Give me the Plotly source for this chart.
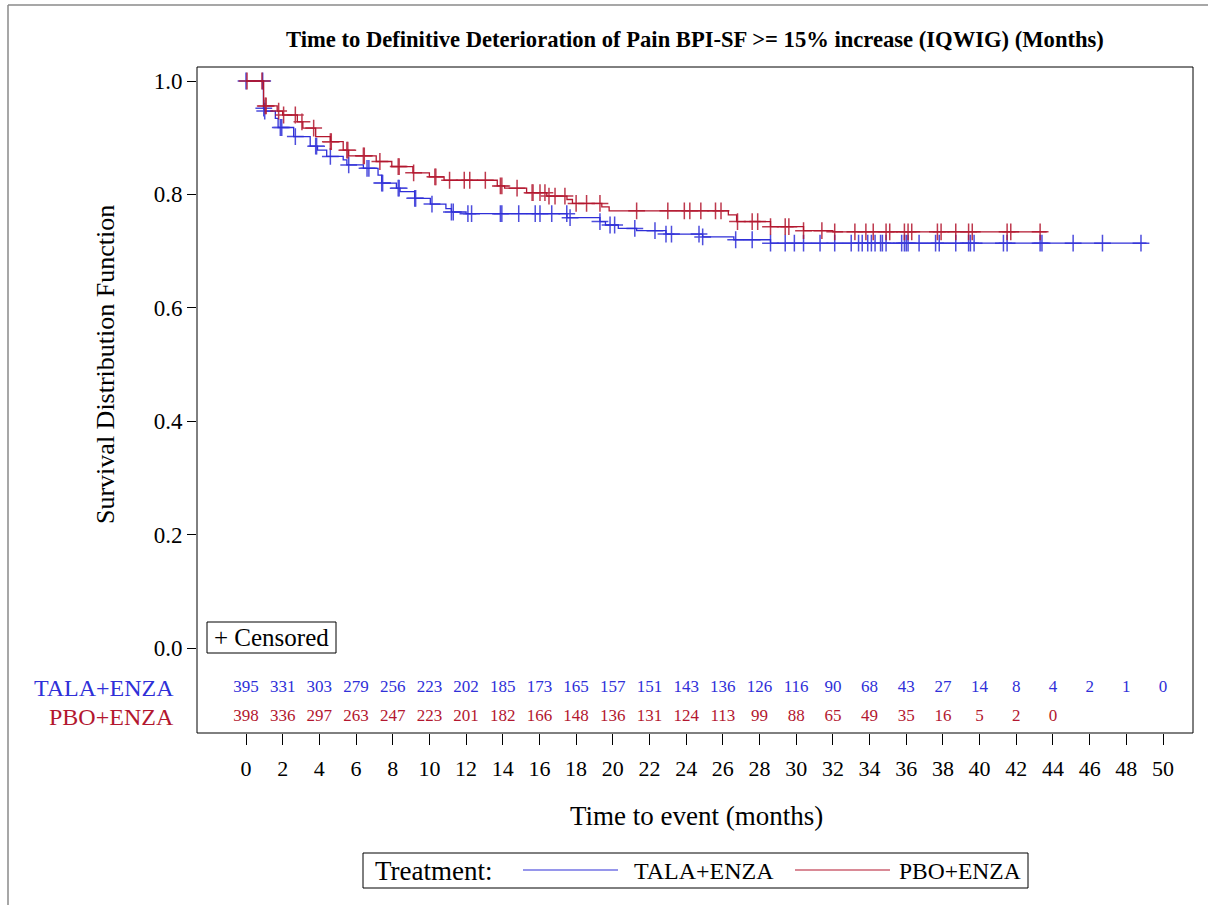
import plotly.graph_objects as go
import numpy as np

# ---------------- data ----------------
months_ticks = list(range(0, 51, 2))

tala_step_t = [0, 0.95, 1.0, 1.6, 1.75, 2.6, 3.5, 3.9, 4.4, 5.3, 5.5, 6.4, 7.2, 7.4, 8.2, 8.4,
               9.2, 10.05, 10.9, 11.2, 12.0, 17.5, 19.3, 19.6, 20.3, 21.3, 22.9, 24.9, 26.6, 28.6]
tala_step_s = [1.0, 0.952, 0.947, 0.934, 0.918, 0.902, 0.885, 0.878, 0.867, 0.861, 0.852, 0.846,
               0.834, 0.820, 0.811, 0.805, 0.793, 0.783, 0.775, 0.769, 0.766, 0.759, 0.752, 0.746,
               0.740, 0.736, 0.730, 0.725, 0.720, 0.714]
tala_end = 49.1
tala_cens = [0.0, 0.91, 0.97, 1.02, 1.87, 1.95, 2.69, 3.8, 3.85, 4.6, 5.6, 6.6, 6.7, 7.4, 7.45,
             8.3, 8.35, 9.2, 9.25, 10.14, 11.2, 11.3, 12.1, 12.3, 13.87, 13.95, 14.87, 15.77,
             16.03, 16.67, 17.49, 17.67, 19.3, 19.85, 20.1, 21.2, 22.3, 22.9, 23.2, 24.7, 24.9,
             26.7, 27.6, 28.6, 29.4, 29.9, 30.4, 31.3, 32.1, 33.0, 33.4, 33.6, 33.9, 34.1, 34.3,
             34.6, 34.7, 34.9, 35.75, 35.9, 36.0, 36.1, 36.7, 37.6, 37.8, 38.7, 39.4, 39.5, 39.7,
             41.3, 41.5, 43.3, 43.4, 45.1, 46.7, 48.8]

pbo_step_t = [0, 0.96, 1.7, 2.0, 2.8, 3.1, 3.8, 4.6, 5.3, 5.6, 7.1, 7.95, 9.1, 10.0, 10.8, 13.7,
              14.1, 15.3, 16.4, 17.5, 17.8, 19.4, 19.8, 26.3, 26.75, 28.6, 30.4, 32.0]
pbo_step_s = [1.0, 0.956, 0.947, 0.940, 0.928, 0.917, 0.902, 0.893, 0.878, 0.868, 0.858, 0.849,
              0.838, 0.831, 0.825, 0.815, 0.811, 0.803, 0.797, 0.791, 0.784, 0.778, 0.771, 0.764,
              0.752, 0.743, 0.736, 0.734]
pbo_end = 43.66
pbo_cens = [0.055, 0.87, 1.05, 1.1, 1.78, 2.05, 2.69, 3.05, 3.69, 4.6, 4.65, 5.5, 5.55, 6.4,
            6.45, 7.3, 8.3, 8.35, 9.14, 10.3, 10.35, 11.1, 11.9, 12.2, 13.05, 13.87, 13.95,
            14.78, 15.6, 15.65, 16.03, 16.3, 16.52, 16.85, 17.39, 18.0, 18.57, 19.3, 21.3, 23.0,
            23.9, 24.2, 24.8, 25.6, 25.9, 26.8, 27.6, 27.9, 28.6, 29.4, 29.6, 30.4, 31.4, 32.1,
            33.2, 33.8, 34.2, 34.9, 35.1, 35.9, 36.1, 36.3, 37.7, 37.9, 38.7, 39.4, 39.6, 41.5,
            41.7, 43.3]

tala_risk = [395, 331, 303, 279, 256, 223, 202, 185, 173, 165, 157, 151, 143, 136, 126, 116,
             90, 68, 43, 27, 14, 8, 4, 2, 1, 0]
pbo_risk = [398, 336, 297, 263, 247, 223, 201, 182, 166, 148, 136, 131, 124, 113, 99, 88, 65,
            49, 35, 16, 5, 2, 0]

arm_names = ["TALA+ENZA", "PBO+ENZA"]

# ---------------- style ----------------
BLUE = "#2f2fd8"
RED = "#b3172f"
FONT = "Liberation Serif"


def step_val(ts, ss, t):
    idx = np.searchsorted(np.array(ts), t, side="right") - 1
    return ss[max(idx, 0)]


fig = go.Figure()

for ts, ss, tend, cens, col, name in [
    (tala_step_t, tala_step_s, tala_end, tala_cens, BLUE, arm_names[0]),
    (pbo_step_t, pbo_step_s, pbo_end, pbo_cens, RED, arm_names[1]),
]:
    fig.add_trace(go.Scatter(x=list(ts) + [tend], y=list(ss) + [ss[-1]], mode="lines",
                             line=dict(color=col, width=1.3, shape="hv"), name=name,
                             hoverinfo="skip"))
    fig.add_trace(go.Scatter(x=cens, y=[step_val(ts, ss, c) for c in cens], mode="markers",
                             marker=dict(symbol="cross-thin", size=12,
                                         line=dict(color=col, width=1.5)),
                             opacity=0.85, hoverinfo="skip"))

# at-risk numbers
Y_TALA = -0.0705
Y_PBO = -0.1217
fig.add_trace(go.Scatter(x=months_ticks[:len(tala_risk)], y=[Y_TALA] * len(tala_risk),
                         mode="text", text=[str(v) for v in tala_risk],
                         textfont=dict(family=FONT, size=17, color=BLUE), hoverinfo="skip"))
fig.add_trace(go.Scatter(x=months_ticks[:len(pbo_risk)], y=[Y_PBO] * len(pbo_risk),
                         mode="text", text=[str(v) for v in pbo_risk],
                         textfont=dict(family=FONT, size=17, color=RED), hoverinfo="skip"))

# geometry helpers (plot area in pixels: x 197-1193, y 67-733)
L, R, T, B = 197, 1193, 67, 733
W, H = R - L, B - T


def px(x):
    return (x - L) / W


def py(y):
    return (B - y) / H


shapes = [
    dict(type="rect", xref="paper", yref="paper", x0=0, x1=1, y0=0, y1=1,
         line=dict(color="black", width=1)),
    # outer gray border
    dict(type="line", xref="paper", yref="paper", x0=px(8), x1=px(1215), y0=py(5), y1=py(5),
         line=dict(color="#8a8a8a", width=1.5)),
    dict(type="line", xref="paper", yref="paper", x0=px(8), x1=px(8), y0=py(5), y1=py(910),
         line=dict(color="#8a8a8a", width=1.5)),
    # censored box
    dict(type="rect", xref="paper", yref="paper", x0=px(207), x1=px(336), y0=py(622),
         y1=py(653), line=dict(color="black", width=1)),
    # legend box
    dict(type="rect", xref="paper", yref="paper", x0=px(363), x1=px(1028), y0=py(853),
         y1=py(888), line=dict(color="black", width=1)),
    dict(type="line", xref="paper", yref="paper", x0=px(523), x1=px(618), y0=py(870),
         y1=py(870), line=dict(color=BLUE, width=1.2)),
    dict(type="line", xref="paper", yref="paper", x0=px(795), x1=px(890), y0=py(870),
         y1=py(870), line=dict(color=RED, width=1.2)),
]


def ann(text, x, y, size, color="black", xanchor="center", xref="paper", yref="paper", **kw):
    return dict(text=text, xref=xref, yref=yref, x=x, y=y, xanchor=xanchor, yanchor="middle",
                showarrow=False, font=dict(family=FONT, size=size, color=color), **kw)


annotations = [
    ann("<b>Time to Definitive Deterioration of Pain BPI-SF >= 15% increase (IQWIG) (Months)</b>",
        px(695), py(40), 22.6),
    ann("Survival Distribution Function", px(105), py(365), 26, textangle=-90),
    ann("Time to event (months)", px(696), py(816), 27),
    ann(arm_names[0], px(176), Y_TALA, 24, color=BLUE, xanchor="right", yref="y"),
    ann(arm_names[1], px(176), Y_PBO, 24, color=RED, xanchor="right", yref="y"),
    ann("+&nbsp;Censored", px(271.5), py(637.5), 25),
    ann("Treatment:", px(373), py(871), 27, xanchor="left"),
    ann(arm_names[0], px(632), py(871), 24, xanchor="left"),
    ann(arm_names[1], px(897), py(871), 23.5, xanchor="left"),
]

fig.update_layout(
    width=1208, height=905,
    margin=dict(l=L, r=1208 - R, t=T, b=905 - B, pad=0),
    paper_bgcolor="white", plot_bgcolor="white",
    showlegend=False,
    shapes=shapes, annotations=annotations,
    xaxis=dict(range=[-(246 - L) / 18.34, 50 + (R - 1163) / 18.34], tickvals=months_ticks,
               ticks="outside", ticklen=11, tickcolor="black", showline=False,
               showgrid=False, zeroline=False, ticklabelstandoff=5,
               tickfont=dict(family=FONT, size=22, color="black")),
    yaxis=dict(range=[-(B - 648) / 567, 1 + (81 - T) / 567],
               tickvals=[0, 0.2, 0.4, 0.6, 0.8, 1.0],
               ticktext=["0.0", "0.2", "0.4", "0.6", "0.8", "1.0"],
               ticks="outside", ticklen=9, tickcolor="black", showline=False,
               showgrid=False, zeroline=False,
               tickfont=dict(family=FONT, size=23, color="black")),
)

fig.write_html("out.html")
